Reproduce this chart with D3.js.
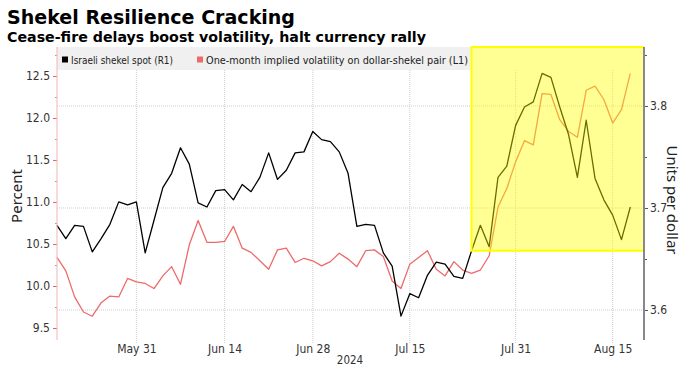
<!DOCTYPE html>
<html><head><meta charset="utf-8">
<script src="https://cdn.jsdelivr.net/npm/d3@7"></script>
<style>
html,body{margin:0;padding:0;background:#fff;}
svg{display:block;font-family:"DejaVu Sans",sans-serif;}
</style></head>
<body>
<svg id="chart" width="691" height="369"></svg>
<script>
// ---- data ----
const dates = [
 "2024-05-20","2024-05-21","2024-05-22","2024-05-23","2024-05-24","2024-05-27","2024-05-28","2024-05-29","2024-05-30","2024-05-31",
 "2024-06-03","2024-06-04","2024-06-05","2024-06-06","2024-06-07","2024-06-10","2024-06-11","2024-06-12","2024-06-13","2024-06-14",
 "2024-06-17","2024-06-18","2024-06-19","2024-06-20","2024-06-21","2024-06-24","2024-06-25","2024-06-26","2024-06-27","2024-06-28",
 "2024-07-01","2024-07-02","2024-07-03","2024-07-04","2024-07-05","2024-07-08","2024-07-09","2024-07-10","2024-07-11","2024-07-12",
 "2024-07-15","2024-07-16","2024-07-17","2024-07-18","2024-07-19","2024-07-22","2024-07-23","2024-07-24","2024-07-25","2024-07-26",
 "2024-07-29","2024-07-30","2024-07-31","2024-08-01","2024-08-02","2024-08-05","2024-08-06","2024-08-07","2024-08-08","2024-08-09",
 "2024-08-12","2024-08-13","2024-08-14","2024-08-15","2024-08-16","2024-08-19"];

// Israeli shekel spot (right axis, units per dollar)
const shekelSpot = [
 3.683,3.670,3.683,3.682,3.657,3.670,3.684,3.706,3.703,3.706,
 3.656,3.688,3.720,3.734,3.759,3.743,3.705,3.701,3.717,3.718,
 3.708,3.723,3.716,3.730,3.754,3.728,3.737,3.754,3.755,3.775,
 3.767,3.765,3.755,3.734,3.682,3.684,3.683,3.656,3.643,3.594,
 3.616,3.612,3.634,3.647,3.645,3.633,3.631,3.658,3.683,3.662,
 3.730,3.741,3.781,3.799,3.804,3.832,3.828,3.799,3.772,3.730,
 3.786,3.729,3.708,3.693,3.669,3.701];

// One-month implied volatility on dollar-shekel pair (left axis, percent)
const impliedVol = [
 10.34,10.18,9.87,9.69,9.64,9.80,9.88,9.87,10.09,10.05,
 10.03,9.97,10.12,10.23,10.02,10.49,10.78,10.52,10.52,10.53,
 10.71,10.45,10.40,10.30,10.20,10.43,10.45,10.28,10.33,10.30,
 10.24,10.29,10.39,10.32,10.23,10.42,10.43,10.35,10.06,9.97,
 10.26,10.34,10.42,10.20,10.12,10.29,10.19,10.15,10.19,10.36,
 10.94,11.16,11.48,11.73,11.68,12.29,12.28,11.98,11.84,11.77,
 12.33,12.38,12.22,11.94,12.10,12.53];

const seriesNames = ["Israeli shekel spot (R1)", "One-month implied volatility on dollar-shekel pair (L1)"];
const xTickDates = ["2024-05-31","2024-06-14","2024-06-28","2024-07-15","2024-07-31","2024-08-15"];
const xTickLabels = ["May 31","Jun 14","Jun 28","Jul 15","Jul 31","Aug 15"];
const leftTicks = [9.5,10.0,10.5,11.0,11.5,12.0,12.5];
const rightTicks = [3.6,3.7,3.8];
const highlightStart = "2024-07-24";
const highlightFloor = 3.658;

// ---- layout ----
const svg = d3.select("#chart");
const plotL = 57, plotR = 644, plotT = 47, plotB = 340;
const tickFont = "'DejaVu Sans Condensed','DejaVu Sans',sans-serif";

const x = d3.scaleLinear().domain([0, dates.length - 1]).range([57, 630.3]);
const yL = d3.scaleLinear().domain([9.357, 12.845]).range([plotB, plotT]);
const yR = d3.scaleLinear().domain([3.5706, 3.8578]).range([plotB, plotT]);

// titles
svg.append("text").attr("x", 7).attr("y", 24)
  .attr("font-size", 20).attr("font-weight", "bold").attr("fill", "#000")
  .attr("textLength", 288).attr("lengthAdjust", "spacingAndGlyphs")
  .text("Shekel Resilience Cracking");
svg.append("text").attr("x", 7).attr("y", 42)
  .attr("font-size", 14.5).attr("font-weight", "bold").attr("fill", "#000")
  .attr("textLength", 419).attr("lengthAdjust", "spacingAndGlyphs")
  .text("Cease-fire delays boost volatility, halt currency rally");

// legend band
svg.append("rect").attr("x", plotL).attr("y", plotT).attr("width", 414).attr("height", 23).attr("fill", "#f0f0f0");

// gridlines
const grid = svg.append("g");
xTickDates.forEach(d => {
  const xi = x(dates.indexOf(d));
  grid.append("line").attr("x1", xi).attr("x2", xi).attr("y1", 70).attr("y2", plotB + 4)
    .attr("stroke", "#cfcfcf").attr("stroke-width", 1).attr("stroke-dasharray", "1,1");
});
rightTicks.forEach(v => {
  grid.append("line").attr("x1", plotL).attr("x2", plotR).attr("y1", yR(v)).attr("y2", yR(v))
    .attr("stroke", "#cfcfcf").attr("stroke-width", 1).attr("stroke-dasharray", "1,1");
});

// lines
const lineR = d3.line().x((d, i) => x(i)).y(d => yR(d));
const lineL = d3.line().x((d, i) => x(i)).y(d => yL(d));
svg.append("path").datum(impliedVol).attr("d", lineL).attr("fill", "none")
  .attr("stroke", "#ee6a6a").attr("stroke-width", 1.3).attr("stroke-linejoin", "round");
svg.append("path").datum(shekelSpot).attr("d", lineR).attr("fill", "none")
  .attr("stroke", "#000").attr("stroke-width", 1.3).attr("stroke-linejoin", "round");

// highlight box
const hx = x(dates.indexOf(highlightStart));
svg.append("rect").attr("x", hx).attr("y", plotT).attr("width", plotR - hx).attr("height", yR(highlightFloor) - plotT)
  .attr("fill", "#ffff00").attr("fill-opacity", 0.42);
svg.append("path")
  .attr("d", `M${plotR},${yR(highlightFloor)}H${hx}V${plotT}H${plotR}`)
  .attr("fill", "none").attr("stroke", "#ffff00").attr("stroke-width", 2);

// legend
const lg = svg.append("g").attr("font-family", tickFont).attr("font-size", 10.5).attr("fill", "#222");
lg.append("rect").attr("x", 62).attr("y", 56.5).attr("width", 6).attr("height", 6).attr("fill", "#000");
lg.append("text").attr("x", 71).attr("y", 63.5).attr("textLength", 102).attr("lengthAdjust", "spacingAndGlyphs").text(seriesNames[0]);
lg.append("rect").attr("x", 197).attr("y", 56.5).attr("width", 6).attr("height", 6).attr("fill", "#ee6a6a");
lg.append("text").attr("x", 206).attr("y", 63.5).attr("textLength", 262).attr("lengthAdjust", "spacingAndGlyphs").text(seriesNames[1]);

// left axis
const axL = d3.axisLeft(yL).tickValues(leftTicks).tickFormat(d3.format(".1f")).tickSize(4).tickPadding(3);
const gL = svg.append("g").attr("transform", `translate(${plotL},0)`).call(axL);
gL.select(".domain").remove();
gL.selectAll(".tick line").attr("stroke", "#e06666");
gL.selectAll(".tick text").attr("font-size", 12).attr("fill", "#333").attr("font-family", tickFont);
const axLminor = d3.axisLeft(yL).tickValues(d3.range(9.5, 12.8, 0.25).filter(v => Math.abs(v * 2 - Math.round(v * 2)) > 0.1)).tickSize(2).tickFormat("");
const gLm = svg.append("g").attr("transform", `translate(${plotL},0)`).call(axLminor);
gLm.select(".domain").remove();
gLm.selectAll(".tick line").attr("stroke", "#e08888");
svg.append("line").attr("x1", plotL).attr("x2", plotL).attr("y1", plotT).attr("y2", plotB).attr("stroke", "#f2b5b5").attr("stroke-width", 1);

// right axis
const axR = d3.axisRight(yR).tickValues(rightTicks).tickFormat(d3.format(".1f")).tickSize(4).tickPadding(2);
const gR = svg.append("g").attr("transform", `translate(${plotR},0)`).call(axR);
gR.select(".domain").remove();
gR.selectAll(".tick line").attr("stroke", "#555");
gR.selectAll(".tick text").attr("font-size", 12).attr("fill", "#333").attr("font-family", tickFont);
const axRminor = d3.axisRight(yR).tickValues([3.65, 3.75, 3.85]).tickSize(3).tickFormat("");
const gRm = svg.append("g").attr("transform", `translate(${plotR},0)`).call(axRminor);
gRm.select(".domain").remove();
gRm.selectAll(".tick line").attr("stroke", "#555");
svg.append("line").attr("x1", plotR).attr("x2", plotR).attr("y1", plotT).attr("y2", plotB).attr("stroke", "#888").attr("stroke-width", 2);

// bottom axis
const axB = d3.axisBottom(x).tickValues(xTickDates.map(d => dates.indexOf(d)))
  .tickFormat((d, i) => xTickLabels[i]).tickSize(0).tickPadding(4);
const gB = svg.append("g").attr("transform", `translate(0,${plotB})`).call(axB);
gB.select(".domain").remove();
gB.selectAll(".tick text").attr("font-size", 12).attr("fill", "#333").attr("font-family", tickFont);
svg.append("text").attr("x", 350).attr("y", 364).attr("text-anchor", "middle")
  .attr("font-size", 11.5).attr("fill", "#333").attr("font-family", tickFont).text("2024");

// axis titles
svg.append("text").attr("transform", "translate(22,196) rotate(-90)").attr("text-anchor", "middle")
  .attr("font-size", 15).attr("fill", "#222").attr("font-family", "'Noto Sans',sans-serif").text("Percent");
svg.append("text").attr("transform", "translate(667,200) rotate(90)").attr("text-anchor", "middle")
  .attr("font-size", 15).attr("fill", "#222").attr("font-family", "'Noto Sans',sans-serif").text("Units per dollar");
</script>
</body></html>
